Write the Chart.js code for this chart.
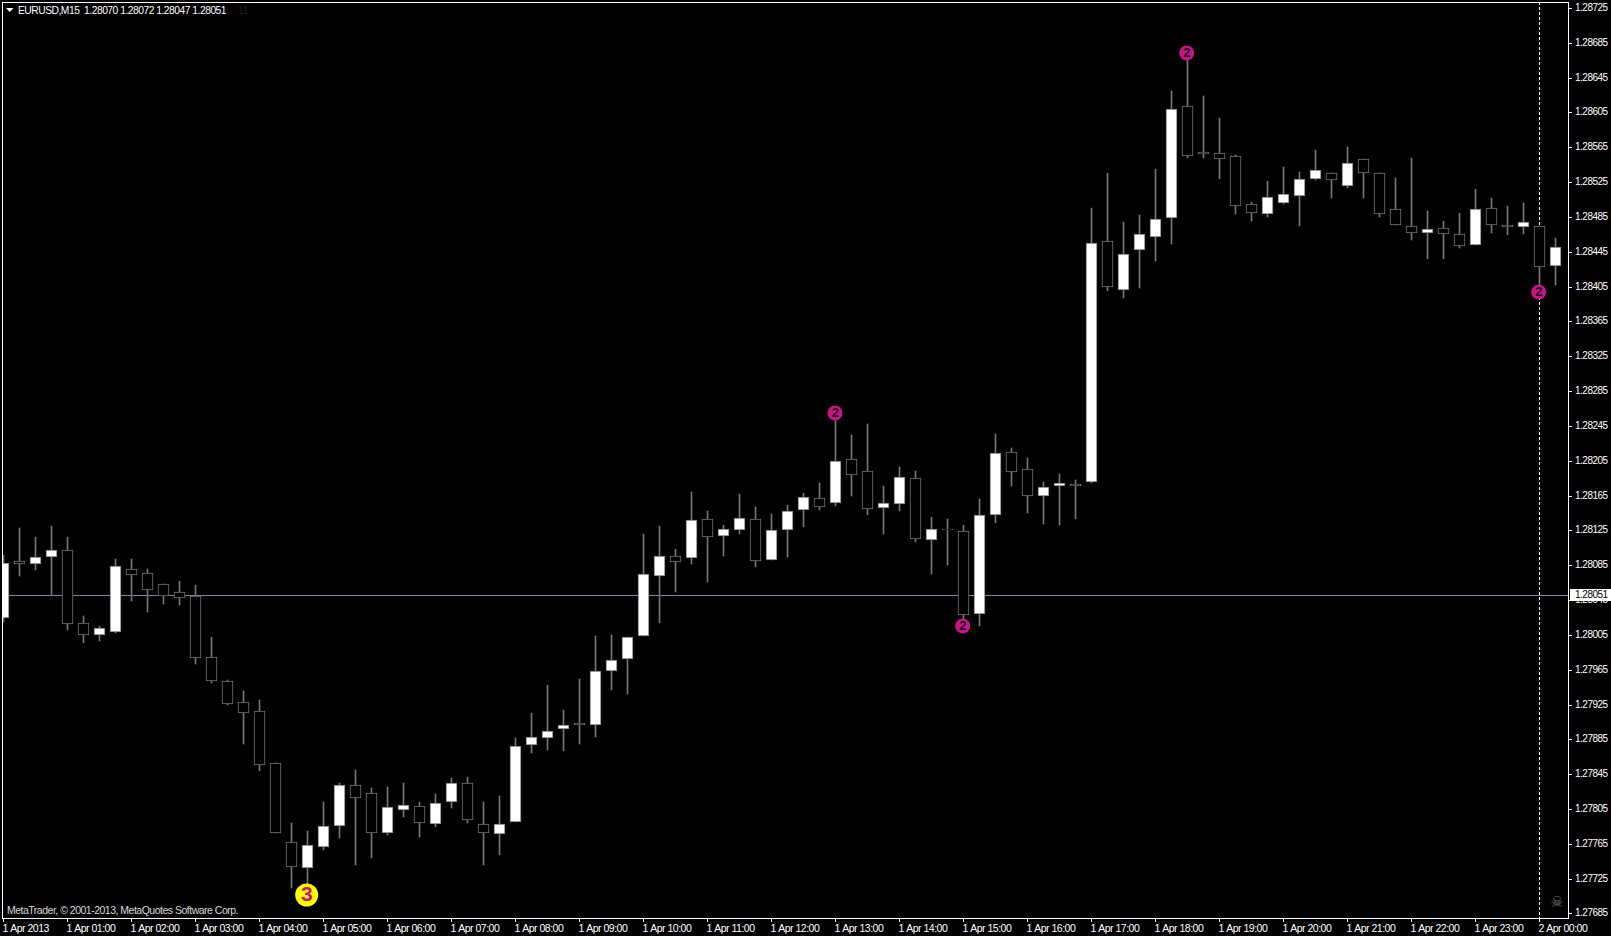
<!DOCTYPE html>
<html><head><meta charset="utf-8">
<style>html,body{margin:0;padding:0;background:#000;overflow:hidden}canvas{display:block}</style>
<script src="https://cdn.jsdelivr.net/npm/chart.js@4"></script>
</head><body>
<div style="width:1611px;height:936px;position:relative"><canvas id="c" width="1611" height="936"></canvas></div>
<script>
const opens=[1.28024,1.28090,1.28086,1.28094,1.28102,1.28019,1.28005,1.28008,1.28081,1.28076,1.28063,1.28054,1.28050,1.27980,1.27952,1.27928,1.27917,1.27858,1.27767,1.27737,1.27761,1.27785,1.27833,1.27823,1.27778,1.27804,1.27809,1.27788,1.27813,1.27835,1.27788,1.27776,1.27790,1.27879,1.27887,1.27897,1.27904,1.27901,1.27964,1.27977,1.28004,1.28073,1.28096,1.28093,1.28138,1.28118,1.28126,1.28138,1.28091,1.28125,1.28148,1.28162,1.28156,1.28207,1.28193,1.28151,1.28155,1.28185,1.28114,1.28127,1.28124,1.28029,1.28143,1.28215,1.28195,1.28164,1.28176,1.28178,1.28181,1.28457,1.28401,1.28447,1.28462,1.28484,1.28613,1.28560,1.28558,1.28555,1.28500,1.28488,1.28501,1.28509,1.28529,1.28536,1.28521,1.28552,1.28536,1.28494,1.28475,1.28467,1.28472,1.28465,1.28453,1.28495,1.28476,1.28473,1.28475,1.28429];
const highs=[1.28097,1.28128,1.28117,1.28130,1.28117,1.28027,1.28015,1.28092,1.28092,1.28081,1.28063,1.28067,1.28062,1.28003,1.27953,1.27941,1.27930,1.27858,1.27789,1.27780,1.27813,1.27835,1.27850,1.27829,1.27830,1.27835,1.27813,1.27822,1.27841,1.27842,1.27813,1.27820,1.27887,1.27915,1.27947,1.27919,1.27954,1.28004,1.28005,1.28002,1.28121,1.28130,1.28104,1.28169,1.28147,1.28131,1.28167,1.28152,1.28144,1.28154,1.28168,1.28179,1.28259,1.28235,1.28247,1.28176,1.28198,1.28193,1.28140,1.28138,1.28131,1.28161,1.28236,1.28220,1.28208,1.28181,1.28190,1.28183,1.28495,1.28535,1.28479,1.28487,1.28540,1.28630,1.28673,1.28624,1.28599,1.28556,1.28502,1.28526,1.28542,1.28537,1.28562,1.28536,1.28565,1.28552,1.28536,1.28530,1.28553,1.28492,1.28480,1.28490,1.28517,1.28507,1.28498,1.28501,1.28475,1.28461];
const lows=[1.28020,1.28073,1.28080,1.28050,1.28011,1.27996,1.27998,1.28007,1.28044,1.28031,1.28041,1.28039,1.27972,1.27950,1.27925,1.27880,1.27849,1.27778,1.27714,1.27715,1.27758,1.27772,1.27741,1.27749,1.27775,1.27796,1.27773,1.27784,1.27806,1.27789,1.27741,1.27752,1.27790,1.27869,1.27873,1.27872,1.27880,1.27888,1.27942,1.27937,1.28004,1.28019,1.28054,1.28086,1.28066,1.28096,1.28121,1.28083,1.28091,1.28094,1.28129,1.28148,1.28153,1.28165,1.28143,1.28121,1.28147,1.28112,1.28075,1.28085,1.28018,1.28015,1.28133,1.28176,1.28145,1.28132,1.28131,1.28138,1.28179,1.28400,1.28392,1.28403,1.28434,1.28454,1.28553,1.28553,1.28529,1.28488,1.28480,1.28485,1.28500,1.28475,1.28527,1.28507,1.28518,1.28507,1.28485,1.28476,1.28459,1.28437,1.28437,1.28449,1.28453,1.28467,1.28464,1.28465,1.28399,1.28407];
const closes=[1.28088,1.28086,1.28094,1.28102,1.28018,1.28005,1.28013,1.28084,1.28074,1.28056,1.28050,1.28047,1.27978,1.27952,1.27926,1.27915,1.27855,1.27778,1.27738,1.27764,1.27786,1.27832,1.27818,1.27777,1.27807,1.27810,1.27789,1.27812,1.27835,1.27792,1.27777,1.27788,1.27877,1.27888,1.27895,1.27902,1.27902,1.27963,1.27976,1.28002,1.28075,1.28096,1.28089,1.28137,1.28117,1.28127,1.28139,1.28090,1.28126,1.28147,1.28163,1.28152,1.28205,1.28189,1.28150,1.28156,1.28186,1.28115,1.28127,1.28125,1.28028,1.28143,1.28214,1.28192,1.28165,1.28175,1.28179,1.28176,1.28455,1.28405,1.28442,1.28465,1.28483,1.28609,1.28555,1.28557,1.28552,1.28498,1.28490,1.28508,1.28511,1.28529,1.28539,1.28527,1.28547,1.28536,1.28488,1.28476,1.28467,1.28471,1.28466,1.28452,1.28494,1.28476,1.28473,1.28479,1.28428,1.28450];
const yTicks=[1.28725,1.28685,1.28645,1.28605,1.28565,1.28525,1.28485,1.28445,1.28405,1.28365,1.28325,1.28285,1.28245,1.28205,1.28165,1.28125,1.28085,1.28045,1.28005,1.27965,1.27925,1.27885,1.27845,1.27805,1.27765,1.27725,1.27685];
const timeLabels=["1 Apr 2013","1 Apr 01:00","1 Apr 02:00","1 Apr 03:00","1 Apr 04:00","1 Apr 05:00","1 Apr 06:00","1 Apr 07:00","1 Apr 08:00","1 Apr 09:00","1 Apr 10:00","1 Apr 11:00","1 Apr 12:00","1 Apr 13:00","1 Apr 14:00","1 Apr 15:00","1 Apr 16:00","1 Apr 17:00","1 Apr 18:00","1 Apr 19:00","1 Apr 20:00","1 Apr 21:00","1 Apr 22:00","1 Apr 23:00","2 Apr 00:00"];
const barsPerLabel=4;
const bidPrice=1.28051;
const cursorBar=96;
const headerText="EURUSD,M15  1.28070 1.28072 1.28047 1.28051";
const tickCounter="11";
const footerText="MetaTrader, \u00A9 2001-2013, MetaQuotes Software Corp.";
const marks2=[{x:51.97,y:1.28260},{x:59.95,y:1.28015},{x:73.95,y:1.28673},{x:95.95,y:1.28399}];
const marks3=[{x:18.95,y:1.27706}];

const GRAY='#747474';
const FONT='"Liberation Sans"';
class SnapScale extends Chart.LinearScale{
  getPixelForValue(v){return Math.round(super.getPixelForValue(v));}
}
SnapScale.id='snapLinear';
SnapScale.defaults=Chart.LinearScale.defaults;
Chart.register(SnapScale);

const canvas=document.getElementById('c');
const ctx0=canvas.getContext('2d',{alpha:false});

const terminalPlugin={
  id:'terminal',
  beforeDraw(chart){
    const c=chart.ctx;
    c.fillStyle='#000';c.fillRect(0,0,1611,936);
    c.letterSpacing='-0.5px';
  },
  beforeDatasetsDraw(chart){
    const c=chart.ctx,a=chart.chartArea,y=chart.scales.y,x=chart.scales.x;
    c.save();
    c.fillStyle='#778899';
    c.fillRect(a.left,y.getPixelForValue(bidPrice),a.right-a.left,1);
    const cx=Math.floor(x.getPixelForValue(cursorBar));
    c.strokeStyle='#fff';c.lineWidth=1;c.setLineDash([3,2]);
    c.beginPath();c.moveTo(cx+.5,a.top);c.lineTo(cx+.5,a.bottom);c.stroke();
    c.restore();
  },
  afterDatasetsDraw(chart){
    const c=chart.ctx;
    c.save();
    c.textAlign='center';c.textBaseline='middle';
    chart.getDatasetMeta(2).data.forEach(p=>{c.font='bold 13px '+FONT;c.fillStyle='#14051a';c.fillText('2',p.x,p.y+.5);});
    chart.getDatasetMeta(3).data.forEach(p=>{c.font='bold 21px '+FONT;c.fillStyle='#c71585';c.fillText('3',p.x,p.y+.5);});
    c.restore();
  },
  afterDraw(chart){
    const c=chart.ctx,a=chart.chartArea,y=chart.scales.y;
    c.save();
    c.strokeStyle='#fff';c.lineWidth=1;c.setLineDash([]);
    c.strokeRect(2.5,2.5,a.right-2,a.bottom-2);
    c.textBaseline='middle';c.textAlign='left';
    c.font='10.3px '+FONT;c.fillStyle='#fff';
    c.beginPath();c.moveTo(6,8);c.lineTo(13.5,8);c.lineTo(9.75,12);c.closePath();c.fill();
    c.fillText(headerText,18,11);
    c.fillStyle='#14211f';c.fillText(tickCounter,238,11.5);
    c.font='10.5px '+FONT;c.fillStyle='#d8d8d8';c.fillText(footerText,7,911);
    const py=y.getPixelForValue(bidPrice);
    c.font='10px '+FONT;c.fillStyle='#fff';c.fillRect(1570,py-6,41,12);
    c.fillStyle='#000';c.fillText('1.28051',1575,py+.5);
    c.font='15px "DejaVu Sans"';c.fillStyle='#6a6a6a';c.textAlign='center';c.letterSpacing='0px';
    c.fillText('\u2620',1557,903);
    c.restore();
  }
};

const idx=opens.map((_,i)=>i);
new Chart(canvas,{
  type:'bar',
  plugins:[terminalPlugin],
  data:{datasets:[
    {type:'bar',label:'Wick',order:3,grouped:false,barThickness:1,backgroundColor:GRAY,borderWidth:0,
     data:idx.map(i=>({x:i,y:[lows[i],highs[i]]}))},
    {type:'bar',label:'Body',order:2,grouped:false,barThickness:11,borderColor:GRAY,borderWidth:1,borderSkipped:false,
     backgroundColor:idx.map(i=>closes[i]>=opens[i]?'#ffffff':'#000000'),
     data:idx.map(i=>({x:i,y:[Math.min(opens[i],closes[i]),Math.max(opens[i],closes[i])]}))},
    {type:'scatter',label:'Mark 2',order:1,data:marks2,clip:false,pointRadius:7.5,pointHoverRadius:7.5,pointBorderWidth:0,pointBackgroundColor:'#c71585',showLine:false},
    {type:'scatter',label:'Mark 3',order:1,data:marks3,clip:false,pointRadius:11.5,pointHoverRadius:11.5,pointBorderWidth:0,pointBackgroundColor:'#ffff00',showLine:false}
  ]},
  options:{
    responsive:false,animation:false,
    layout:{autoPadding:false,padding:{top:2,left:2,right:0,bottom:0}},
    plugins:{legend:{display:false},tooltip:{enabled:false},title:{display:false}},
    events:[],
    scales:{
      x:{type:'linear',position:'bottom',min:-0.09375,max:97.78125,offset:false,
        afterFit(s){s.height=18;s.paddingLeft=0;s.paddingRight=0;},
        afterBuildTicks(s){s.ticks=timeLabels.map((_,k)=>({value:k*barsPerLabel}));},
        border:{color:'#fff',width:1},
        grid:{drawOnChartArea:false,drawTicks:true,tickLength:4,color:'#fff',offset:false},
        ticks:{align:'start',autoSkip:false,maxRotation:0,minRotation:0,padding:1,labelOffset:-1,color:'#fff',
          font:{family:'Liberation Sans',size:10.5},
          callback:v=>timeLabels[v/barsPerLabel]}},
      y:{type:'snapLinear',position:'right',min:1.276798,max:1.287319,
        afterFit(s){s.width=43;s.paddingTop=0;s.paddingBottom=0;},
        afterBuildTicks(s){s.ticks=yTicks.map(v=>({value:v}));},
        border:{color:'#fff',width:1},
        grid:{drawOnChartArea:false,drawTicks:true,tickLength:4,color:'#fff'},
        ticks:{autoSkip:false,padding:3,color:'#fff',font:{family:'Liberation Sans',size:10},
          callback:v=>v.toFixed(5)}}
    }
  }
});
</script>
</body></html>
